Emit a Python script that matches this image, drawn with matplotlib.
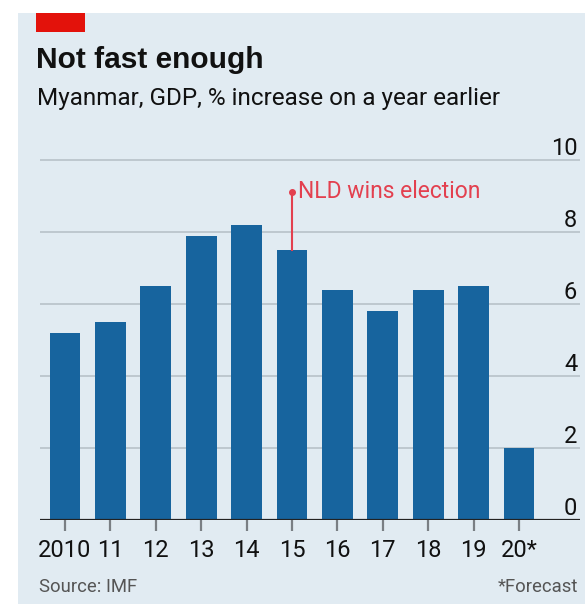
import matplotlib
matplotlib.use('Agg')
import matplotlib.pyplot as plt
from matplotlib import font_manager
from matplotlib.patches import Rectangle

# data
years = ['2010', '11', '12', '13', '14', '15', '16', '17', '18', '19', '20*']
gdp_growth = [5.2, 5.5, 6.5, 7.9, 8.2, 7.5, 6.4, 5.8, 6.4, 6.5, 2.0]
y_ticks = [0, 2, 4, 6, 8, 10]
event_year = '15'
event_label = 'NLD wins election'
event_top = 9.12

# fonts
names = {f.name for f in font_manager.fontManager.ttflist}
narrow = 'Liberation Sans Narrow' if 'Liberation Sans Narrow' in names else 'Roboto'
plt.rcParams['font.family'] = [narrow, 'DejaVu Sans']

W, H = 585, 604
bg = '#e1ebf2'
bar_col = '#17649e'
red = '#e3404f'

fig = plt.figure(figsize=(W / 100, H / 100), dpi=100)
fig.patch.set_facecolor('white')

def fx(px):
    return px / W

def fy(py):
    return 1 - py / H

# panel + red tag
fig.patches.append(Rectangle((fx(18), 0), 1 - fx(18), fy(13), transform=fig.transFigure,
                             facecolor=bg, edgecolor='none', zorder=-2))
fig.patches.append(Rectangle((fx(36), fy(32)), fx(49), 19 / H, transform=fig.transFigure,
                             facecolor='#e3120b', edgecolor='none', zorder=-1))

fig.text(fx(36), fy(68), 'Not fast enough', fontsize=21.5, fontweight='bold',
         family=['Liberation Sans', 'DejaVu Sans'], va='baseline', color='#111111')
fig.text(fx(37), fy(105), 'Myanmar, GDP, % increase on a year earlier', fontsize=17.5,
         va='baseline', color='#111111')
fig.text(fx(39), fy(592), 'Source: IMF', fontsize=13.3, va='baseline', color='#555555')
fig.text(fx(578), fy(592), '*Forecast', fontsize=13.3, va='baseline', ha='right', color='#555555')

# axes: y=0 at 520px, 36px per unit; bar centres at 65px, 45.4px apart
ymax = 10.5
ax = fig.add_axes([fx(40), fy(520), fx(540), ymax * 36 / H])
ax.set_zorder(2)
ax.set_facecolor('none')
x = list(range(len(years)))
ax.bar(x, gdp_growth, width=0.68, color=bar_col, zorder=3)
ax.set_xlim(-25 / 45.4, 515 / 45.4)
ax.set_ylim(0, ymax)

for s in ax.spines.values():
    s.set_visible(False)

ax.set_yticks(y_ticks)
ax.yaxis.set_ticks_position('right')
ax.yaxis.grid(True, color='#b8c2c9', lw=1.2, zorder=1)
ax.tick_params(axis='y', length=0, pad=-2, labelsize=17, labelcolor='#111111')
for lab in ax.get_yticklabels():
    lab.set_horizontalalignment('right')
    lab.set_verticalalignment('bottom')
ax.axhline(0, color='#222222', lw=1.6, zorder=4)

ax.set_xticks(x)
ax.set_xticklabels(years)
ax.tick_params(axis='x', length=8, width=1.6, color='#7a7f84', pad=6,
               labelsize=17, labelcolor='#111111')
ax.set_axisbelow(True)

# annotation
ei = years.index(event_year)
ax.plot([ei, ei], [gdp_growth[ei], event_top], color=red, lw=1.5, zorder=5)
ax.plot([ei], [event_top], 'o', color=red, ms=4, zorder=5)
ax.text(ei + 0.13, event_top, event_label, color=red, fontsize=16.5, va='center', ha='left')

fig.savefig('out.png', dpi=100, facecolor=fig.get_facecolor())
